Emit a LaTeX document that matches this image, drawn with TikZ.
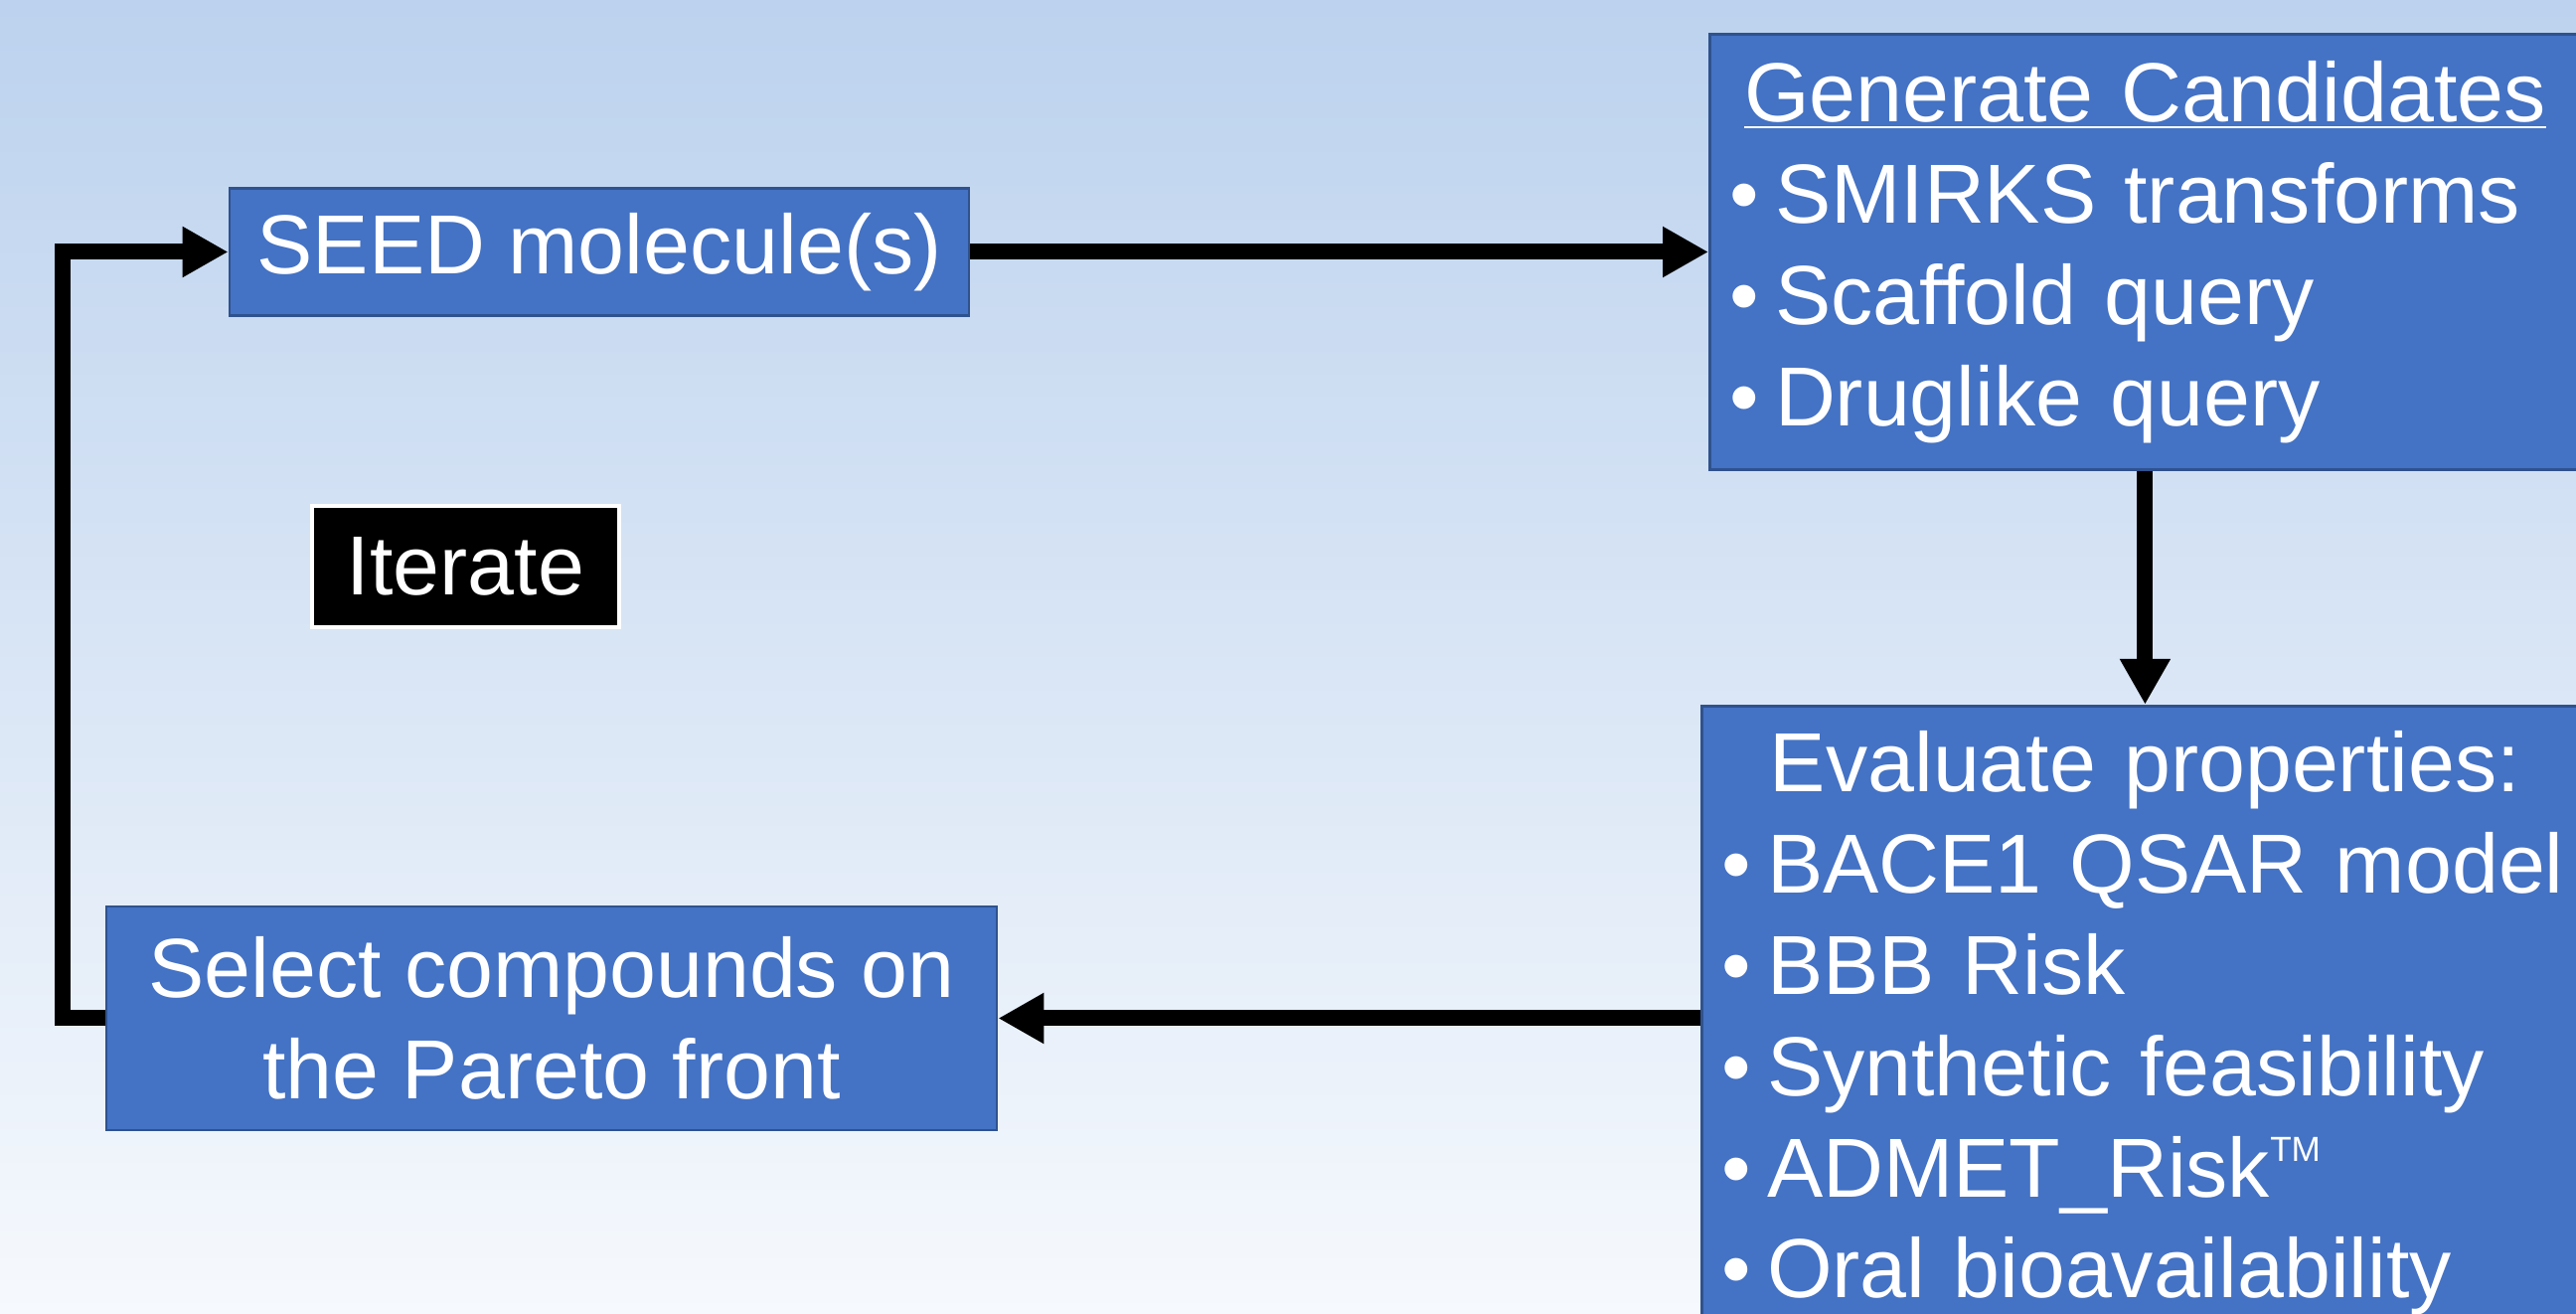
\documentclass[tikz,border=0pt]{standalone}
\usepackage{fontspec}
\setmainfont{Liberation Sans}
\usetikzlibrary{positioning,arrows.meta}
\definecolor{boxblue}{HTML}{4472C4}
\definecolor{boxline}{HTML}{2F528F}
\definecolor{bgtop}{HTML}{BCD2EE}
\definecolor{bgbottom}{HTML}{F6F9FD}
\newcommand{\blt}{\makebox[13pt][l]{•}}
\newcommand{\tmark}{\raisebox{10pt}{\fontsize{10}{10}\selectfont TM}}
\setlength{\parindent}{0pt}

\begin{document}
\begin{tikzpicture}[
    stage/.style={draw=boxline,line width=0.8pt,fill=boxblue,text=white,inner xsep=0.2cm,inner ysep=0.25cm,font=\fontsize{24}{29}\selectfont},
    flow/.style={line width=0.16cm,-{Triangle[length=0.46cm,width=0.48cm]}}]
  \useasboundingbox (0,0) rectangle (25.92,13.22);
  \shade[top color=bgtop,bottom color=bgbottom] (0,0) rectangle (25.92,13.22);
  \node[stage,minimum width=7.44cm,minimum height=1.27cm] (seed) at (6.03,10.685) {SEED molecule(s)};
  \node[stage,anchor=north west,text width=8.36cm,minimum height=4.38cm,align=left] (gen) at (17.19,12.89) {%
    \makebox[\hsize]{\underline{Generate Candidates}}\\
    \blt SMIRKS transforms\\
    \blt Scaffold query\\
    \blt Druglike query};
  \node[stage,text width=8.52cm,align=left,below=2.35cm of gen] (eval) {%
    \makebox[\hsize]{Evaluate properties:}\\
    \blt BACE1 QSAR model\\
    \blt BBB Risk\\
    \blt Synthetic feasibility\\
    \blt ADMET\_Risk\tmark\\
    \blt Oral bioavailability};
  \node[stage,minimum width=8.96cm,minimum height=2.25cm,align=center] (sel) at (5.55,2.975) {Select compounds on\\the Pareto front};
  \node[draw=white,line width=1pt,fill=black,text=white,minimum width=3.09cm,minimum height=1.22cm,font=\fontsize{24}{29}\selectfont] (iter) at (4.685,7.52) {Iterate};
  \coordinate (back) at (0.63,0);
  \draw[flow] (seed.east) -- (seed.east -| gen.west);
  \draw[flow] (gen.south) -- (eval.north);
  \draw[flow] (eval.west |- sel.east) -- (sel.east);
  \draw[flow] (sel.west) -- (sel.west -| back) |- (seed.west);
\end{tikzpicture}
\end{document}
